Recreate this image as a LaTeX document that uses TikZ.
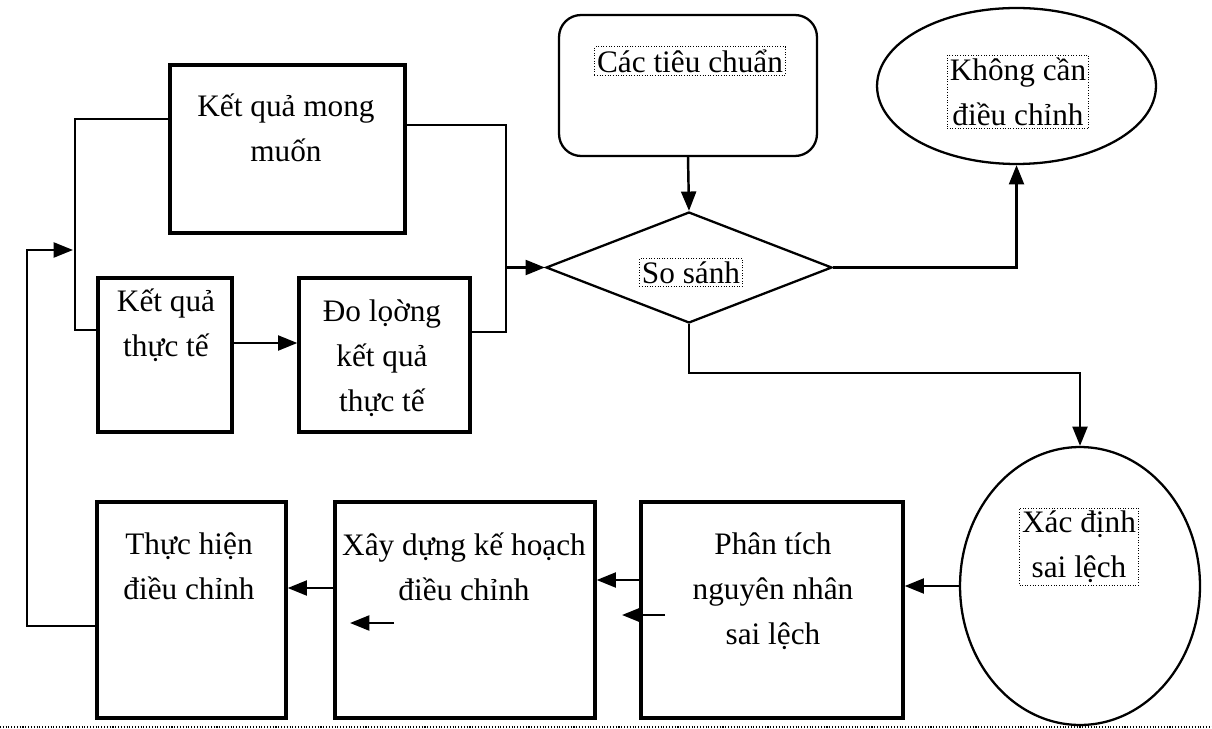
\documentclass[tikz,border=0pt]{standalone}
\usepackage{fontspec}
\setmainfont{Liberation Serif}
\usetikzlibrary{arrows.meta}
\usetikzlibrary{shapes.geometric}

\begin{document}
\begin{tikzpicture}[x=0.02cm,y=-0.02cm,
    every node/.style={font=\fontsize{17.8}{25.5}\selectfont},
    hop/.style={draw,line width=1.9pt,inner sep=0pt},
    hinh/.style={draw,line width=1.3pt,inner sep=0pt},
    chu/.style={align=center,inner sep=1pt},
    khung/.style={draw,densely dotted,line width=0.5pt,inner sep=1.5pt,align=center},
    arr/.style={-{Triangle[length=11pt,width=8.5pt]},line width=1.4pt},
    noi/.style={line width=1.4pt}]
    \useasboundingbox (0,0) rectangle (1212,729);
    % khung chu nhat
    \node[hop,minimum width=4.7cm,minimum height=3.36cm] (mong) at (287.5,149) {};
    \node[hop,minimum width=2.68cm,minimum height=3.08cm] (thucte) at (165,355) {};
    \node[hop,minimum width=3.42cm,minimum height=3.08cm] (doluong) at (384.5,355) {};
    \node[hop,minimum width=5.24cm,minimum height=4.32cm] (phantich) at (772,610) {};
    \node[hop,minimum width=5.2cm,minimum height=4.32cm] (xaydung) at (465,610) {};
    \node[hop,minimum width=3.78cm,minimum height=4.32cm] (thuchien) at (191.5,610) {};
    % cac hinh khac
    \node[hinh,rounded corners=0.44cm,minimum width=5.16cm,minimum height=2.82cm] (tieuchuan) at (688,85.5) {};
    \node[hinh,ellipse,minimum width=5.58cm,minimum height=3.12cm] (khongcan) at (1016.5,86) {};
    \node[hinh,diamond,minimum width=5.72cm,minimum height=2.22cm] (sosanh) at (689,267.5) {};
    \node[hinh,ellipse,minimum width=4.8cm,minimum height=5.56cm] (xacdinh) at (1080,586) {};
    % chu
    \node[chu] (t-mong) at (286,127.5) {Kết quả mong\\muốn};
    \node[chu] (t-thucte) at (166,325.5) {Kết quả\\thực tế};
    \node[chu] (t-doluong) at (382,358) {Đo lọờng\\kết quả\\thực tế};
    \node[chu] (t-phantich) at (773,591) {Phân tích\\nguyên nhân\\sai lệch};
    \node[chu] (t-xaydung) at (464,566.5) {Xây dựng kế hoạch\\điều chỉnh};
    \node[chu] (t-thuchien) at (189,566.5) {Thực hiện\\điều chỉnh};
    \node[khung] (t-tieuchuan) at (690,61) {Các tiêu chuẩn};
    \node[khung] (t-khongcan) at (1018,92) {Không cần\\điều chỉnh};
    \node[khung] (t-sosanh) at (691,272.5) {So sánh};
    \node[khung] (t-xacdinh) at (1079,546.5) {Xác định\\sai lệch};
    % diem noi
    \coordinate (jL) at (75,119);
    \coordinate (jL2) at (75,330);
    \coordinate (jR) at (506,125);
    \coordinate (jR2) at (506,332);
    \coordinate (jM) at (jR |- sosanh.west);
    \coordinate (jB) at (689,373);
    \coordinate (fb1) at (27,626);
    \coordinate (fb2) at (27,250);
    \coordinate (fb3) at (73,250);
    \coordinate (le1) at (665,615);
    \coordinate (le1b) at (622,615);
    \coordinate (le2) at (394,623);
    \coordinate (le2b) at (350,623);
    % duong noi
    \draw[noi] (mong.west |- jL) -- (jL) -- (jL2) -- (thucte.west |- jL2);
    \draw[noi] (mong.east |- jR) -- (jR) -- (jR2) -- (doluong.east |- jR2);
    \draw[arr] ([yshift=0.24cm]thucte.east) -- ([yshift=0.24cm]doluong.west);
    \draw[arr] (jM) -- (sosanh.west);
    \draw[arr] (tieuchuan.south) -- (sosanh.north);
    \draw[arr] (sosanh.east) -| (khongcan.south);
    \draw[arr] (sosanh.south) -- (jB) -| (xacdinh.north);
    \draw[arr] (xacdinh.west) -- (xacdinh.west -| phantich.east);
    \draw[arr] ([yshift=0.6cm]phantich.west) -- ([yshift=0.6cm]xaydung.east);
    \draw[arr] (le1) -- (le1b);
    \draw[arr] ([yshift=0.44cm]xaydung.west) -- ([yshift=0.44cm]thuchien.east);
    \draw[arr] (le2) -- (le2b);
    \draw[arr] (thuchien.west |- fb1) -- (fb1) -- (fb2) -- (fb3);
    \draw[densely dotted,line width=0.6pt] (0,727) -- (1212,727);
\end{tikzpicture}
\end{document}
